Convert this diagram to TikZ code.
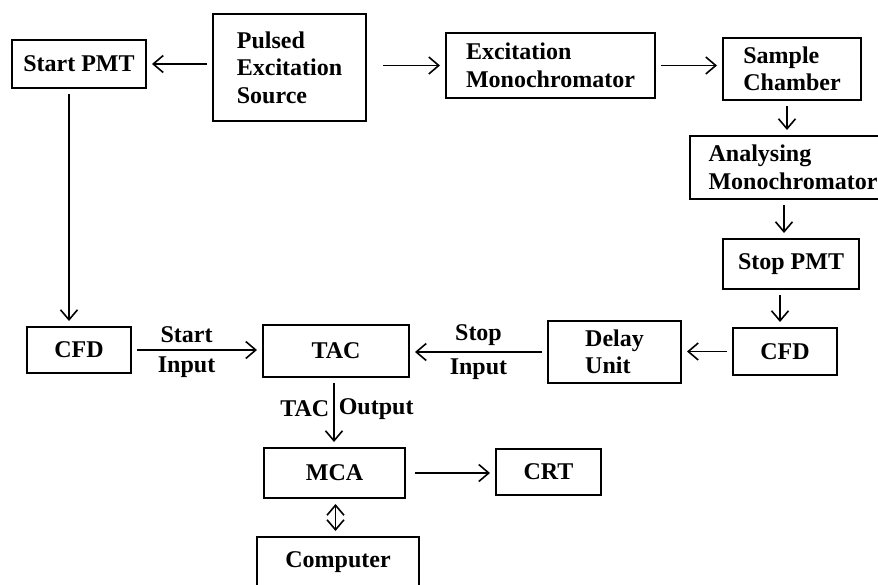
\documentclass[tikz,border=0pt]{standalone}
\usepackage{fontspec}
\setmainfont{Liberation Serif}
\usetikzlibrary{positioning,arrows.meta}

\begin{document}
\begin{tikzpicture}[x=1pt,y=-1pt,->,>={Straight Barb[length=10pt,width=17pt]},shorten >=5pt,shorten <=5pt,
  line width=1.6pt,main node/.style={rectangle,draw,line width=2pt,align=left,
  font=\fontsize{24}{27.5}\selectfont\bfseries},
  label node/.style={font=\fontsize{24}{27.5}\selectfont\bfseries,inner sep=6pt}]
  \useasboundingbox (0,0) rectangle (878,584);
  \clip (0,0) rectangle (878,584);
  \node[main node,minimum width=134pt,minimum height=48pt] (1) at (79,64) {Start PMT};
  \node[main node,minimum width=153pt,minimum height=107pt] (2) at (289.5,67.5) {Pulsed\\Excitation\\Source};
  \node[main node,minimum width=209pt,minimum height=65pt] (3) at (550.5,65.5) {Excitation\\Monochromator};
  \node[main node,minimum width=138pt,minimum height=62pt] (4) at (792,69) {Sample\\Chamber};
  \node[main node,minimum width=206pt,minimum height=63pt] (5) at (793,167.5) {Analysing\\Monochromator};
  \node[main node,minimum width=136pt,minimum height=50pt] (6) at (791,264) {Stop PMT};
  \node[main node,minimum width=104pt,minimum height=47pt] (7) at (785,351.5) {CFD};
  \node[main node,minimum width=133pt,minimum height=62pt] (8) at (614.5,352) {Delay\\Unit};
  \node[main node,minimum width=146pt,minimum height=52pt] (9) at (336,351) {TAC};
  \node[main node,minimum width=104pt,minimum height=46pt] (10) at (79,350) {CFD};
  \node[main node,minimum width=141pt,minimum height=50pt] (11) at (334.5,473) {MCA};
  \node[main node,minimum width=105pt,minimum height=46pt] (12) at (548.5,472) {CRT};
  \node[main node,minimum width=162pt,minimum height=50pt] (13) at (338,562) {Computer};

  \path
    (2.west |- 1.east) edge (1.east)
    (2.east |- 3.west) edge [shorten <=16pt] (3.west)
    (3.east) edge (3.east -| 4.west)
    ([xshift=-5pt]4.south) edge ([xshift=-5pt]4.south |- 5.north)
    ([xshift=-9pt]5.south) edge ([xshift=-9pt]5.south |- 6.north)
    ([xshift=-11pt]6.south) edge ([xshift=-11pt]6.south |- 7.north)
    (7.west) edge (7.west -| 8.east)
    (8.west) edge node [label node,above] {Stop} node [label node,below] {Input} (8.west -| 9.east)
    ([xshift=-10pt]1.south) edge ([xshift=-10pt]1.south |- 10.north)
    (10.east) edge node [label node,above,pos=0.42] {Start} node [label node,below,pos=0.42] {Input} (10.east -| 9.west)
    ([xshift=-2pt]9.south) edge node [label node,left,pos=0.45,inner sep=4pt] {TAC} node [label node,right,pos=0.45,inner sep=4pt] {Output} ([xshift=-2pt]9.south |- 11.north)
    (11.east) edge [shorten <=9pt] (11.east -| 12.west)
    ([xshift=1pt]11.south) edge [<->] ([xshift=1pt]11.south |- 13.north);
\end{tikzpicture}
\end{document}
